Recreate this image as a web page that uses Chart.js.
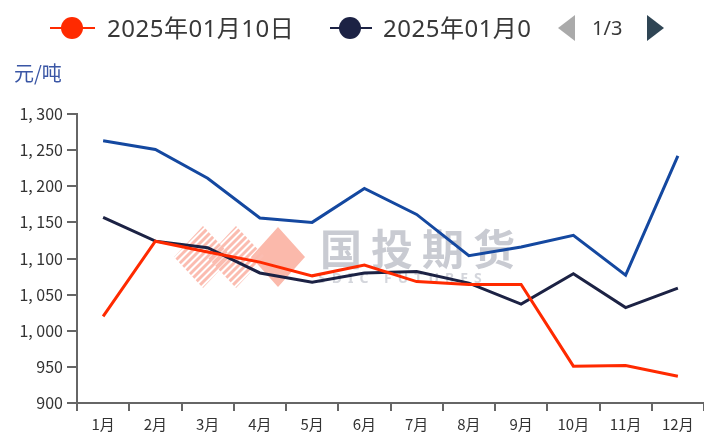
<!DOCTYPE html>
<html>
<head>
<meta charset="utf-8">
<script src="https://cdn.jsdelivr.net/npm/chart.js@4.4.1/dist/chart.umd.min.js"></script>
<style>
  body { margin: 0; background: #fff; }
  #wrap { position: relative; width: 704px; height: 437px; font-family: "Noto Sans", "Noto Sans CJK SC", sans-serif; }
  #c { position: absolute; left: 0; top: 0; }
  .lg-line { position: absolute; height: 2px; top: 27px; }
  .lg-dot { position: absolute; width: 22px; height: 22px; border-radius: 50%; top: 17px; }
  .lg-text { position: absolute; top: 12px; font-size: 24px; line-height: 32px; color: #383838; white-space: nowrap; }
  .arrow { position: absolute; top: 15px; width: 0; height: 0; border-top: 13px solid transparent; border-bottom: 13px solid transparent; }
  #unit { position: absolute; left: 14px; top: 58px; font-size: 20px; color: #3a56a5; font-family: "Noto Sans CJK SC", sans-serif; }
</style>
</head>
<body>
<div id="wrap">
  <canvas id="c" width="704" height="437"></canvas>
  <div class="lg-line" style="left:50px;width:45px;background:#ff2a00"></div>
  <div class="lg-dot" style="left:61px;background:#ff2a00"></div>
  <div class="lg-text" style="left:107px;letter-spacing:0.5px">2025年01月10日</div>
  <div class="lg-line" style="left:330px;width:42px;background:#1c2244"></div>
  <div class="lg-dot" style="left:339px;background:#1c2244"></div>
  <div class="lg-text" style="left:383px;letter-spacing:0.5px">2025年01月0</div>
  <div class="arrow" style="left:558px;border-right:17px solid #aaa"></div>
  <div class="lg-text" style="left:592px;font-size:20px">1/3</div>
  <div class="arrow" style="left:647px;border-left:17px solid #2f4554"></div>
  <div id="unit">元/吨</div>
</div>
<script>
// categories and series
const months = ['1月', '2月', '3月', '4月', '5月', '6月', '7月', '8月', '9月', '10月', '11月', '12月'];
const seriesNames = ['2025年01月10日', '2025年01月0', ''];
const redValues = [1020, 1124, 1109, 1095, 1076, 1091, 1068, 1064, 1064, 951, 952, 937];
const navyValues = [1157, 1124, 1115, 1080, 1067, 1080, 1082, 1066, 1037, 1079, 1032, 1059];
const blueValues = [1263, 1251, 1211, 1156, 1150, 1197, 1161, 1104, 1116, 1132, 1077, 1242];
const yTicks = { min: 900, max: 1300, step: 50 };

function fmt(v) {
    if (v >= 1000) return Math.floor(v / 1000) + ', ' + String(v % 1000).padStart(3, '0');
    return String(v);
}

// watermark logo + text behind the lines
const watermark = {
    id: 'watermark',
    beforeDatasetsDraw(chart) {
        const ctx = chart.ctx;
        ctx.save();
        ctx.fillStyle = '#fbb9ab';
        ctx.beginPath();
        ctx.moveTo(278, 227);
        ctx.lineTo(305, 257);
        ctx.lineTo(278, 287);
        ctx.lineTo(251, 257);
        ctx.closePath();
        ctx.fill();

        // striped diamonds
        [[203, 257], [236, 257]].forEach(([cx, cy]) => {
            ctx.save();
            ctx.beginPath();
            ctx.moveTo(cx, cy - 31);
            ctx.lineTo(cx + 29, cy);
            ctx.lineTo(cx, cy + 31);
            ctx.lineTo(cx - 29, cy);
            ctx.closePath();
            ctx.clip();
            ctx.strokeStyle = '#fbbcb0';
            ctx.lineWidth = 3;
            for (let k = -80; k < 80; k += 7) {
                ctx.beginPath();
                ctx.moveTo(cx + k - 40, cy + 40);
                ctx.lineTo(cx + k + 40, cy - 40);
                ctx.stroke();
            }
            ctx.restore();
        });

        ctx.fillStyle = 'rgba(165,168,180,0.6)';
        ctx.font = 'bold 42px "Noto Sans CJK SC"';
        ctx.textBaseline = 'middle';
        ctx.letterSpacing = '9px';
        ctx.fillText('国投期货', 320, 249);
        ctx.fillStyle = 'rgba(170,174,186,0.5)';
        ctx.font = 'bold 14px "Noto Sans"';
        ctx.letterSpacing = '6px';
        ctx.fillText('SDIC FUTURES', 318, 279);
        ctx.restore();
    }
};

new Chart(document.getElementById('c'), {
    type: 'line',
    data: {
        labels: months,
        datasets: [
            { label: seriesNames[0], data: redValues, borderColor: '#ff2a00', borderWidth: 3 },
            { label: seriesNames[1], data: navyValues, borderColor: '#1c2244', borderWidth: 3 },
            { label: seriesNames[2], data: blueValues, borderColor: '#1448a0', borderWidth: 3 }
        ]
    },
    options: {
        responsive: false,
        animation: false,
        devicePixelRatio: 1,
        layout: { padding: { top: 114, left: 0, right: 0, bottom: 0 } },
        elements: { point: { radius: 0 }, line: { tension: 0 } },
        plugins: { legend: { display: false }, tooltip: { enabled: false } },
        scales: {
            x: {
                offset: true,
                grid: { offset: true, drawOnChartArea: false, tickLength: 8, color: '#666', lineWidth: 2 },
                border: { color: '#666', width: 2 },
                ticks: { color: '#333', padding: 4, maxRotation: 0, font: { size: 15, family: '"Noto Sans CJK SC"' } },
                afterFit(scale) { scale.height = 34; }
            },
            y: {
                min: yTicks.min,
                max: yTicks.max,
                grid: { drawOnChartArea: false, tickLength: 10, color: '#666', lineWidth: 2 },
                border: { color: '#666', width: 2 },
                ticks: {
                    stepSize: yTicks.step,
                    color: '#333',
                    padding: 4,
                    font: { size: 16, family: '"Noto Sans CJK SC"' },
                    callback: v => fmt(v)
                },
                afterFit(scale) { scale.width = 77; }
            }
        }
    },
    plugins: [watermark]
});
</script>
</body>
</html>
